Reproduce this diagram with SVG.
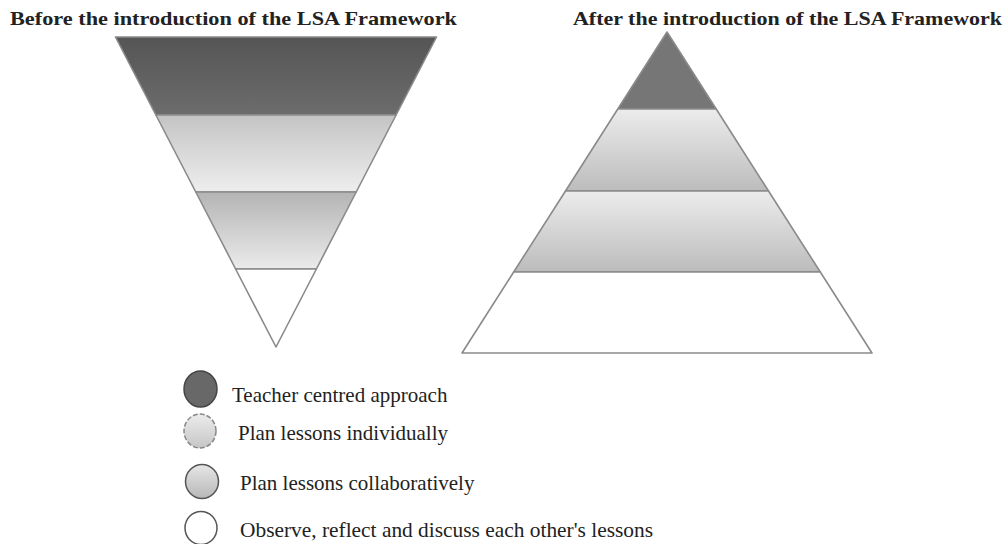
<svg xmlns="http://www.w3.org/2000/svg" width="1007" height="544" viewBox="0 0 1007 544">
<defs>
<linearGradient id="gDark" x1="0" y1="0" x2="0" y2="1"><stop offset="0" stop-color="#555"/><stop offset="1" stop-color="#6c6c6c"/></linearGradient>
<linearGradient id="gL1" x1="0" y1="0" x2="0" y2="1"><stop offset="0" stop-color="#c4c4c4"/><stop offset="1" stop-color="#eeeeee"/></linearGradient>
<linearGradient id="gL2" x1="0" y1="0" x2="0" y2="1"><stop offset="0" stop-color="#b4b4b4"/><stop offset="1" stop-color="#ebebeb"/></linearGradient>
<linearGradient id="gU" x1="0" y1="0" x2="0" y2="1"><stop offset="0" stop-color="#ececec"/><stop offset="1" stop-color="#bcbcbc"/></linearGradient>
<linearGradient id="gC2" x1="0" y1="0" x2="0" y2="1"><stop offset="0" stop-color="#ececec"/><stop offset="1" stop-color="#c6c6c6"/></linearGradient>
<linearGradient id="gC3" x1="0" y1="0" x2="0" y2="1"><stop offset="0" stop-color="#e6e6e6"/><stop offset="1" stop-color="#b8b8b8"/></linearGradient>
</defs>
<style>
.band{stroke:#8a8a8a;stroke-width:1.6;stroke-linejoin:round}
.title{font-family:"Liberation Serif",serif;font-weight:bold;font-size:19px;fill:#222}
.leg{font-family:"Liberation Serif",serif;font-size:21px;fill:#222}
</style>
<rect width="1007" height="544" fill="#fff"/>
<text class="title" x="10" y="25" textLength="447" lengthAdjust="spacingAndGlyphs">Before the introduction of the LSA Framework</text>
<text class="title" x="573" y="25" textLength="429" lengthAdjust="spacingAndGlyphs">After the introduction of the LSA Framework</text>
<g id="before-pyramid">
<polygon class="band" points="115.5,37 436.5,37 396.1,115 155.9,115" fill="url(#gDark)"/>
<polygon class="band" points="155.9,115 396.1,115 356.2,192 195.8,192" fill="url(#gL1)"/>
<polygon class="band" points="195.8,192 356.2,192 316.4,269 235.6,269" fill="url(#gL2)"/>
<polygon class="band" points="235.6,269 316.4,269 276,347" fill="#fff"/>
</g>
<g id="after-pyramid">
<polygon class="band" points="667,32 716.2,109 617.8,109" fill="#767676"/>
<polygon class="band" points="617.8,109 716.2,109 768.5,191 565.5,191" fill="url(#gU)"/>
<polygon class="band" points="565.5,191 768.5,191 820.3,272 513.7,272" fill="url(#gU)"/>
<polygon class="band" points="513.7,272 820.3,272 872,353 462,353" fill="#fff"/>
</g>
<g id="legend-teacher">
<ellipse cx="200.5" cy="389" rx="16.5" ry="18" fill="#686868" stroke="#444" stroke-width="1.5"/>
<text class="leg" x="232" y="402">Teacher centred approach</text>
</g>
<g id="legend-individual">
<ellipse cx="200" cy="431" rx="16" ry="17" fill="url(#gC2)" stroke="#888" stroke-width="1.5" stroke-dasharray="5 2"/>
<text class="leg" x="238" y="440">Plan lessons individually</text>
</g>
<g id="legend-collab">
<ellipse cx="202" cy="481.5" rx="16.5" ry="17" fill="url(#gC3)" stroke="#555" stroke-width="1.5"/>
<text class="leg" x="240" y="490">Plan lessons collaboratively</text>
</g>
<g id="legend-observe">
<ellipse cx="201" cy="528" rx="16" ry="16.5" fill="#fff" stroke="#555" stroke-width="1.5"/>
<text class="leg" x="240" y="537" textLength="413" lengthAdjust="spacingAndGlyphs">Observe, reflect and discuss each other's lessons</text>
</g>
</svg>
